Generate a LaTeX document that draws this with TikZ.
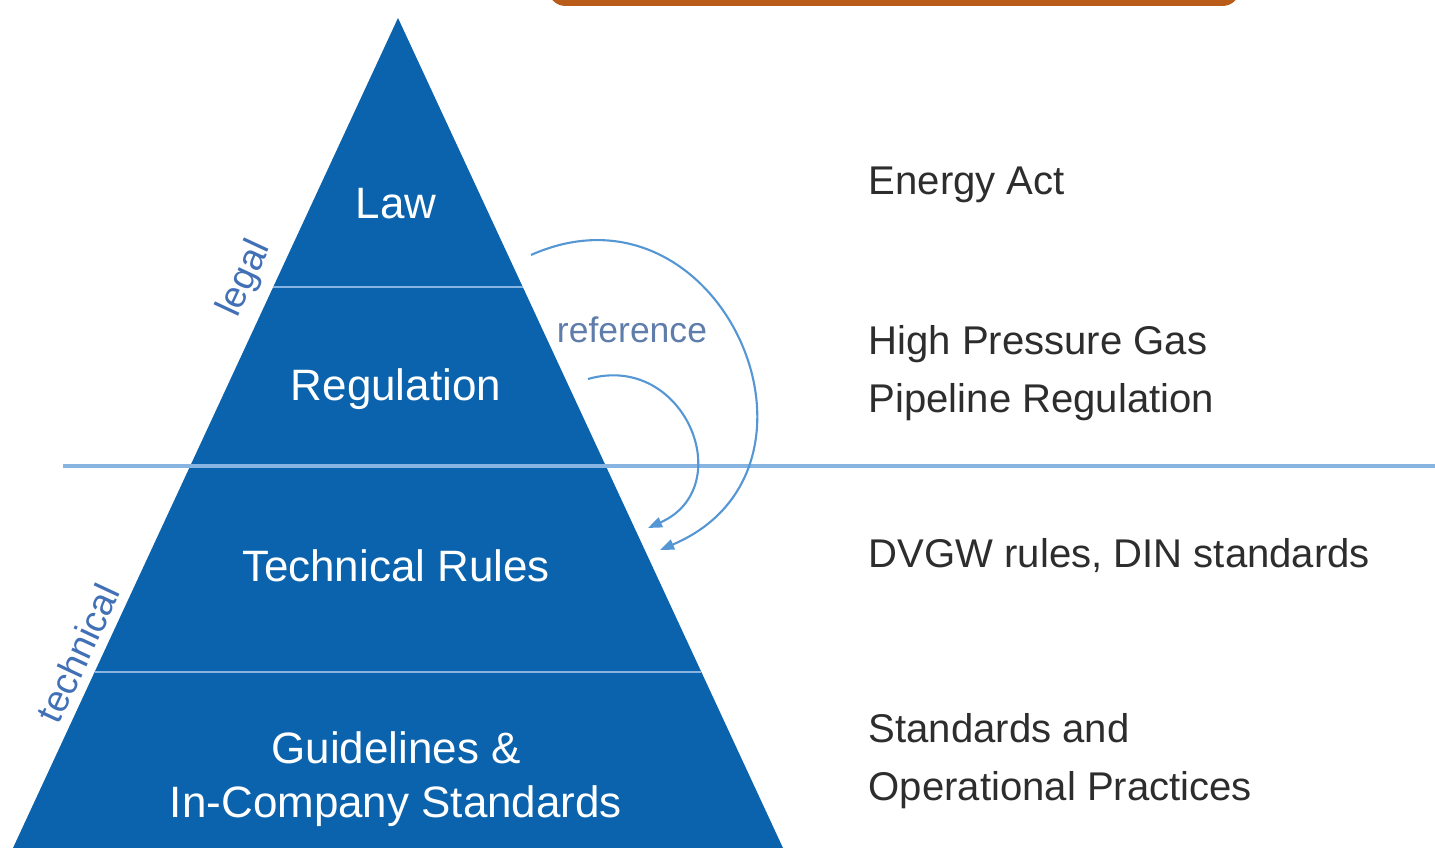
\documentclass[tikz,border=0pt]{standalone}
\usepackage{fontspec}
\setmainfont{Liberation Sans}
\usepackage{tikz}
\usetikzlibrary{arrows.meta,calc}

\definecolor{pyrblue}{RGB}{10,99,172}
\definecolor{sepblue}{RGB}{135,180,225}
\definecolor{arcblue}{RGB}{85,150,212}
\definecolor{sideblue}{RGB}{65,112,182}
\definecolor{refgray}{RGB}{95,125,170}
\definecolor{notegray}{RGB}{45,45,45}
\definecolor{barorange}{RGB}{185,92,25}

\begin{document}
\begin{tikzpicture}[x=0.01cm, y=0.01cm, >={Triangle[length=4pt,width=3pt]}]
  % ------- styles -------
  \tikzstyle{layer}=[text=white, align=center, font=\fontsize{12.5}{15.4}\selectfont]
  \tikzstyle{note}=[text=notegray, anchor=west, align=left, inner sep=0pt, font=\fontsize{11.4}{16.5}\selectfont]
  \tikzstyle{side}=[text=sideblue, rotate=65, font=\fontsize{10.6}{12}\selectfont]
  \tikzstyle{divider}=[draw=sepblue, line width=0.6pt]
  \tikzstyle{refarc}=[draw=arcblue, line width=0.6pt, ->]

  \useasboundingbox (0,0) rectangle (1435,848);
  \clip (0,0) rectangle (1435,848);

  % title bar cut off at the top
  \fill[barorange, rounded corners=5pt] (548,842) rectangle (1240,890);

  % ------- pyramid -------
  \coordinate (apex)  at (398,830);
  \coordinate (baseL) at (13,0);
  \coordinate (baseR) at (783,0);
  \fill[pyrblue] (apex) -- (baseR) -- (baseL) -- cycle;

  % layer borders
  \draw[divider] ($(apex)!0.324!(baseL)$) -- ($(apex)!0.324!(baseR)$);
  \draw[divider] ($(apex)!0.788!(baseL)$) -- ($(apex)!0.788!(baseR)$);
  % legal / technical split
  \coordinate (splitL) at (63,382);
  \coordinate (splitR) at (1435,382);
  \draw[divider, line width=0.9pt] (splitL) -- (splitR);

  % ------- layers -------
  \node[layer] (law)   at (396,644) {Law};
  \node[layer] (reg)   at (396,459) {Regulation};
  \node[layer] (tech)  at (396,282) {Technical Rules};
  \node[layer] (guide) at (396,69)  {Guidelines \&\\In-Company Standards};

  \node[side] (legal)     at (245,569) {legal};
  \node[side] (technical) at (78,195)  {technical};

  % ------- examples -------
  \node[note] (act)  at (868,663)   {Energy Act};
  \node[note] (hpgp) at (868,475)   {High Pressure Gas\\Pipeline Regulation};
  \node[note] (dvgw) at (868,292)   {DVGW rules, DIN standards};
  \node[note] (ops)  at (868,87)    {Standards and\\Operational Practices};

  % ------- reference arcs -------
  \node[text=refgray, font=\fontsize{10.1}{12}\selectfont] (ref) at (632,518) {reference};
  \coordinate (outS) at (531,593);
  \coordinate (outE) at (660,298);
  \coordinate (inS)  at (588,469);
  \coordinate (inE)  at (648,320);
  \draw[refarc] (outS) to[out=24, in=23, looseness=1.65] (outE);
  \draw[refarc] (inS) to[out=16, in=24, looseness=1.6] (inE);

\end{tikzpicture}
\end{document}
